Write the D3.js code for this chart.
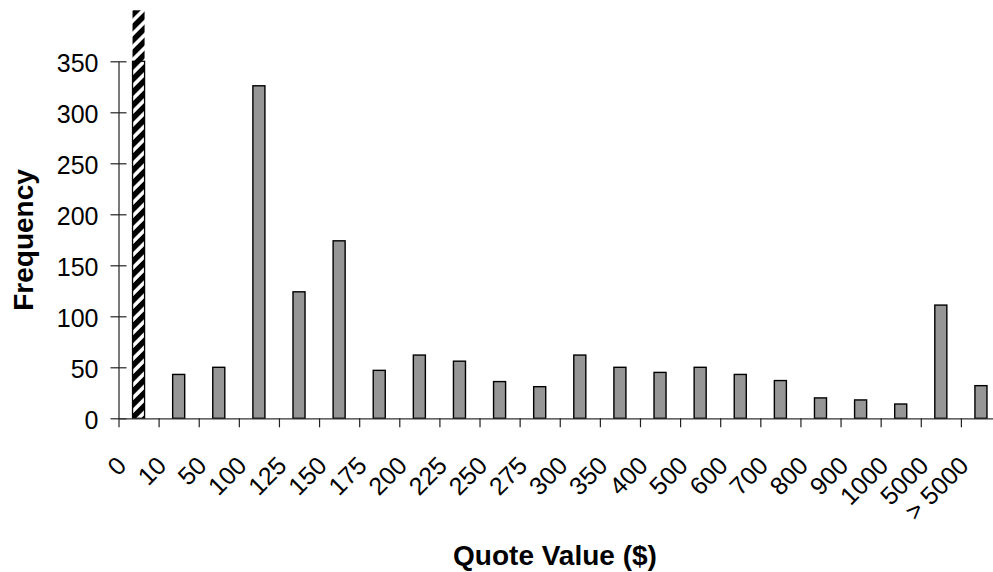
<!DOCTYPE html>
<html>
<head>
<meta charset="utf-8">
<script src="https://cdn.jsdelivr.net/npm/d3@7"></script>
<style>
  html, body { margin: 0; padding: 0; background: #fff; }
  svg { display: block; font-family: "Liberation Sans", Arial, sans-serif; }
</style>
</head>
<body>
<svg id="chart" width="993" height="572"></svg>
<script>
// Histogram of quote values
const categories = ["0", "10", "50", "100", "125", "150", "175", "200", "225", "250", "275",
  "300", "350", "400", "500", "600", "700", "800", "900", "1000", "5000", "> 5000"];
const frequency = [400, 43, 50, 326, 124, 174, 47, 62, 56, 36, 31,
  62, 50, 45, 50, 43, 37, 20, 18, 14, 111, 32];
const yTicks = [0, 50, 100, 150, 200, 250, 300, 350];
const highlighted = "0"; // off-scale bin, drawn hatched

const svg = d3.select("#chart");
const W = 993, H = 572;
const x0 = 118.5, x1 = 1001, yBase = 418.3, yTop = 61.3;

svg.append("rect").attr("width", W).attr("height", H).attr("fill", "#fff");

const x = d3.scaleBand().domain(categories).range([x0, x1])
  .paddingInner(0.7).paddingOuter(0.35);
const edges = d3.scaleLinear().domain([0, categories.length]).range([x0, x1]);
const yMax = d3.max(yTicks);
const y = d3.scaleLinear().domain([0, yMax]).range([yBase, yTop]);

// diagonal hatch for the highlighted bin
const defs = svg.append("defs");
const pat = defs.append("pattern").attr("id", "hatch")
  .attr("patternUnits", "userSpaceOnUse").attr("width", 9.2).attr("height", 9.2)
  .attr("patternTransform", "rotate(45)");
pat.append("rect").attr("width", 9.2).attr("height", 9.2).attr("fill", "#fff");
pat.append("rect").attr("width", 5.6).attr("height", 9.2).attr("fill", "#000");

// bars
const bars = svg.append("g");
categories.forEach((c, i) => {
  const v = frequency[i];
  if (c === highlighted) {
    bars.append("rect")
      .attr("x", x(c)).attr("width", x.bandwidth())
      .attr("y", y(v)).attr("height", y(0) - y(v))
      .attr("fill", "url(#hatch)");
    bars.append("rect")
      .attr("x", x(c)).attr("width", x.bandwidth())
      .attr("y", y(Math.min(v, yMax))).attr("height", y(0) - y(Math.min(v, yMax)))
      .attr("fill", "none").attr("stroke", "#000").attr("stroke-width", 1.3);
  } else {
    bars.append("rect")
      .attr("x", x(c)).attr("width", x.bandwidth())
      .attr("y", y(v)).attr("height", y(0) - y(v))
      .attr("fill", "#969696").attr("stroke", "#000").attr("stroke-width", 1.4);
  }
});

// y axis with crossing ticks
const gy = svg.append("g").attr("transform", `translate(${x0},0)`)
  .call(d3.axisLeft(y).tickValues(yTicks).tickSizeInner(8).tickSizeOuter(0).tickPadding(12));
gy.select(".domain").attr("stroke", "#333").attr("stroke-width", 1.3);
gy.selectAll(".tick line").attr("x1", 8).attr("stroke", "#222").attr("stroke-width", 1.2);
gy.selectAll(".tick text").attr("font-size", 25).attr("fill", "#000")
  .attr("font-family", "'Liberation Sans', Arial, sans-serif").attr("dy", "0.42em");

// x axis: ticks at bin edges
const gx = svg.append("g").attr("transform", `translate(0,${yBase})`)
  .call(d3.axisBottom(edges).tickValues(d3.range(0, categories.length + 1))
    .tickSizeInner(9).tickSizeOuter(0).tickFormat(""));
gx.select(".domain").attr("stroke", "#333").attr("stroke-width", 1.3);
gx.selectAll(".tick line").attr("stroke", "#222").attr("stroke-width", 1.2);

// rotated category labels
svg.append("g").selectAll("text").data(categories).join("text")
  .attr("transform", d => `translate(${x(d) + x.bandwidth() / 2 - 17},461) rotate(-45)`)
  .attr("text-anchor", "end").attr("dy", "0.35em")
  .attr("font-size", 25).attr("fill", "#000")
  .text(d => d);

// axis titles
svg.append("text")
  .attr("transform", "translate(33,240) rotate(-90)")
  .attr("text-anchor", "middle").attr("font-size", 28).attr("font-weight", "bold")
  .text("Frequency");
svg.append("text")
  .attr("x", 555).attr("y", 565)
  .attr("text-anchor", "middle").attr("font-size", 28).attr("font-weight", "bold")
  .text("Quote Value ($)");
</script>
</body>
</html>
